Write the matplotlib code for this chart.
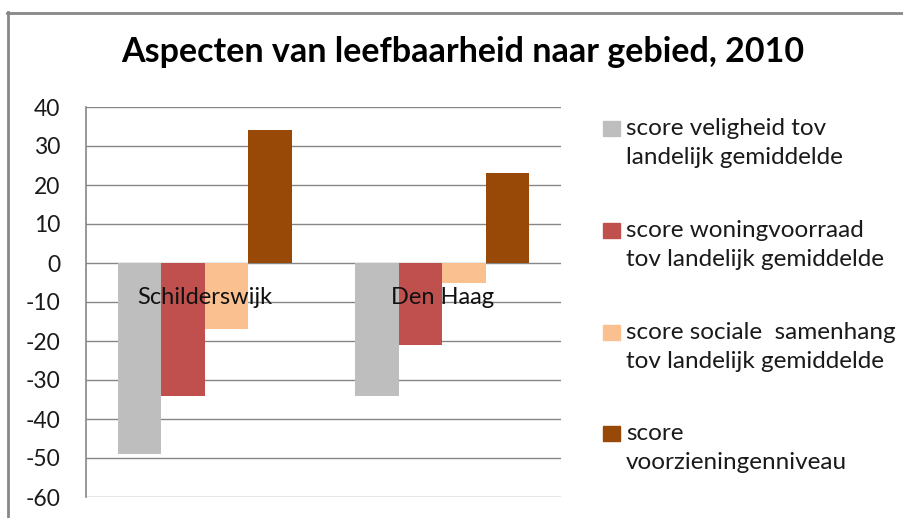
import numpy as np
import matplotlib
matplotlib.use("Agg")
import matplotlib.pyplot as plt
from matplotlib.patches import Rectangle
from matplotlib.lines import Line2D

plt.rcParams['font.family'] = ['Lato', 'DejaVu Sans']

# data
gebieden = ["Schilderswijk", "Den Haag"]
series = [
    "score veligheid tov\nlandelijk gemiddelde",
    "score woningvoorraad\ntov landelijk gemiddelde",
    "score sociale  samenhang\ntov landelijk gemiddelde",
    "score\nvoorzieningenniveau",
]
veiligheid = [-49, -34]
woningvoorraad = [-34, -21]
sociale_samenhang = [-17, -5]
voorzieningen = [34, 23]
kleuren = ["#BEBEBE", "#C0504D", "#FAC090", "#984807"]
yticks = list(range(-60, 41, 10))

W, H = 904, 518
fig = plt.figure(figsize=(W / 100, H / 100), dpi=100)

def fx(px):
    return px / W

def fy(py):
    return 1 - py / H

# plot area in pixels: x 86..561, y 107..497
ax = fig.add_axes([fx(86), fy(497), fx(561) - fx(86), fy(107) - fy(497)])

x = np.arange(len(gebieden))
w = 0.1835
waarden = [veiligheid, woningvoorraad, sociale_samenhang, voorzieningen]
for i, (vals, c) in enumerate(zip(waarden, kleuren)):
    ax.bar(x + (i - 1.5) * w, vals, w, color=c, zorder=2)

ax.set_xlim(-0.5, 1.5)
ax.set_ylim(-60, 40)
ax.set_yticks(yticks)
ax.set_yticklabels([str(v) for v in yticks])
ax.yaxis.grid(True, color="#868686", linewidth=1.0, zorder=0)
ax.set_axisbelow(True)
ax.tick_params(axis="y", length=0, pad=18.5, labelsize=16.5, labelcolor="#1a1a1a")
ax.tick_params(axis="x", length=0)
ax.set_xticks([])
for s in ["top", "right", "bottom"]:
    ax.spines[s].set_visible(False)
ax.spines["left"].set_color("#868686")
ax.spines["left"].set_linewidth(1.2)

# category labels sit just below the zero line
for xi, naam in zip(x, gebieden):
    ax.text(xi, -8.8, naam, ha="center", va="center", fontsize=17,
            color="#111111", zorder=3)

fig.text(fx(463), fy(62), "Aspecten van leefbaarheid naar gebied, 2010",
         ha="center", va="baseline", fontsize=24.5, fontweight="bold", color="black")

# legend, drawn by hand to match spacing
leg_mid = [143, 245, 347, 448]
for ym, lab, c in zip(leg_mid, series, kleuren):
    top = ym - 22
    fig.add_artist(Rectangle((fx(603), fy(top + 15)), fx(17), fy(top) - fy(top + 15),
                             transform=fig.transFigure, color=c))
    fig.text(fx(626), fy(ym), lab, ha="left", va="center", fontsize=17.5,
             color="#1a1a1a", linespacing=1.42)

# chart border (top and left visible)
fig.add_artist(Line2D([fx(8), fx(8)], [fy(12), 0], transform=fig.transFigure,
                      color="#888888", linewidth=2))
fig.add_artist(Line2D([fx(7), 1], [fy(13), fy(13)], transform=fig.transFigure,
                      color="#888888", linewidth=2))

fig.savefig("out.png", dpi=100)
